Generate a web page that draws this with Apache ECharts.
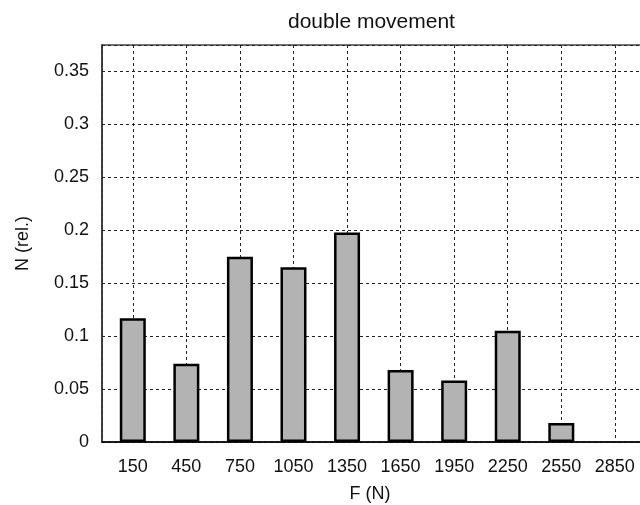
<!DOCTYPE html>
<html>
<head>
<meta charset="utf-8">
<script src="https://cdn.jsdelivr.net/npm/echarts@6/dist/echarts.min.js"></script>
<style>
  html, body { margin: 0; padding: 0; background: #fff; }
  #chart { width: 640px; height: 505px; }
</style>
</head>
<body>
<div id="chart"></div>
<script>
const categories = ['150', '450', '750', '1050', '1350', '1650', '1950', '2250', '2550', '2850'];
const values = [0.117, 0.074, 0.175, 0.165, 0.198, 0.068, 0.058, 0.105, 0.018, 0];
const titleText = 'double movement';
const xName = 'F (N)';
const yName = 'N (rel.)';

const font = 'Liberation Sans';
const barData = categories.map((c, i) => ({
  value: [i, values[i]],
  itemStyle: values[i] === 0 ? { borderWidth: 0 } : undefined
}));

const chart = echarts.init(document.getElementById('chart'), null, { renderer: 'canvas' });
chart.setOption({
  animation: false,
  backgroundColor: '#ffffff',
  title: {
    text: titleText,
    left: 283,
    top: 7,
    textStyle: { fontFamily: font, fontSize: 21, fontWeight: 'normal', color: '#111' }
  },
  grid: {
    left: 102,
    top: 45,
    width: 545,
    height: 397,
    containLabel: false,
    outerBoundsMode: 'none',
    show: true,
    borderColor: '#444',
    borderWidth: 1.5,
    backgroundColor: 'transparent'
  },
  xAxis: {
    type: 'value',
    min: -0.575,
    max: 9.6,
    splitNumber: 10,
    name: xName,
    nameLocation: 'middle',
    nameGap: 43,
    nameTextStyle: { fontFamily: font, fontSize: 18, color: '#111', padding: [0, 9, 0, 0] },
    axisLine: { show: true, onZero: false, lineStyle: { color: '#000', width: 1.5 } },
    axisTick: { show: false },
    axisLabel: {
      fontFamily: font, fontSize: 18, color: '#111', margin: 16,
      showMinLabel: false, showMaxLabel: false,
      formatter: function (v) {
        return Number.isInteger(v) && v >= 0 && v < categories.length ? categories[v] : '';
      }
    },
    splitLine: { show: true, lineStyle: { color: '#222', width: 1, type: [3, 3] } }
  },
  yAxis: {
    type: 'value',
    min: 0,
    max: 0.375,
    interval: 0.05,
    name: yName,
    nameLocation: 'middle',
    nameGap: 70,
    nameRotate: 90,
    nameTextStyle: { fontFamily: font, fontSize: 18, color: '#111' },
    axisLine: { show: true, onZero: false, lineStyle: { color: '#333', width: 1.5 } },
    axisTick: { show: false },
    axisLabel: {
      fontFamily: font, fontSize: 18, color: '#111', margin: 13,
      showMaxLabel: false,
      formatter: function (v) { return String(+v.toFixed(2)); }
    },
    splitLine: { show: true, lineStyle: { color: '#222', width: 1, type: [3, 3] } }
  },
  series: [{
    type: 'bar',
    data: barData,
    barWidth: 26,
    itemStyle: { color: '#b3b3b3', borderColor: '#000', borderWidth: 2.5 }
  }]
});
</script>
</body>
</html>
